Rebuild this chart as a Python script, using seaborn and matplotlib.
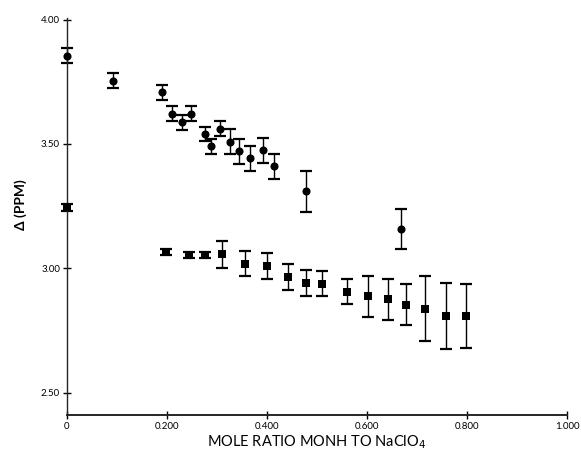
import numpy as np
import pandas as pd
import matplotlib
matplotlib.use('Agg')
import matplotlib.pyplot as plt
import seaborn as sns

# circles (upper series)
circ_x = [0.0, 0.093, 0.190, 0.209, 0.229, 0.247, 0.275, 0.287, 0.305, 0.325,
          0.343, 0.366, 0.391, 0.414, 0.478, 0.667]
circ_y = [3.855, 3.755, 3.708, 3.621, 3.588, 3.621, 3.541, 3.491, 3.561, 3.510,
          3.471, 3.443, 3.474, 3.411, 3.310, 3.159]
circ_err = [0.030, 0.030, 0.031, 0.030, 0.030, 0.030, 0.028, 0.030, 0.030, 0.050,
            0.051, 0.050, 0.051, 0.050, 0.082, 0.081]

# squares (lower series)
sq_x = [0.0, 0.198, 0.243, 0.276, 0.309, 0.356, 0.399, 0.441, 0.478, 0.509,
        0.559, 0.601, 0.641, 0.677, 0.716, 0.757, 0.797]
sq_y = [3.246, 3.065, 3.052, 3.052, 3.056, 3.019, 3.008, 2.965, 2.941, 2.938,
        2.905, 2.888, 2.876, 2.854, 2.838, 2.808, 2.808]
sq_err = [0.014, 0.012, 0.012, 0.012, 0.053, 0.051, 0.052, 0.052, 0.052, 0.051,
          0.050, 0.083, 0.082, 0.081, 0.130, 0.132, 0.130]

x_ticks = [0, 0.2, 0.4, 0.6, 0.8, 1.0]
x_labels = ['0', '0.200', '0.400', '0.600', '0.800', '1.000']
y_ticks = [2.5, 3.0, 3.5, 4.0]
y_labels = ['2.50', '3.00', '3.50', '4.00']

circ = pd.DataFrame({'x': circ_x, 'y': circ_y, 'err': circ_err})
sq = pd.DataFrame({'x': sq_x, 'y': sq_y, 'err': sq_err})

sns.set_style('ticks')
plt.rcParams['font.family'] = ['Lato', 'DejaVu Sans']

fig = plt.figure(figsize=(5.81, 4.54), dpi=100)
ax = fig.add_axes([0.1153, 0.0859, 0.8607, 0.8735])

for df in (circ, sq):
    ax.errorbar(df['x'], df['y'], yerr=df['err'], fmt='none', ecolor='black',
                elinewidth=1.0, capsize=4.5, capthick=1.6, clip_on=False, zorder=2)

sns.scatterplot(data=circ, x='x', y='y', ax=ax, marker='o', s=34, color='black',
                edgecolor='black', linewidth=0, clip_on=False, zorder=3)
sns.scatterplot(data=sq, x='x', y='y', ax=ax, marker='s', s=28, color='black',
                edgecolor='black', linewidth=0, clip_on=False, zorder=3)

ax.set_xlim(0, 1.0)
ax.set_ylim(2.41, 4.005)
ax.set_xticks(x_ticks)
ax.set_xticklabels(x_labels)
ax.set_yticks(y_ticks)
ax.set_yticklabels(y_labels)
ax.tick_params(axis='both', direction='inout', length=6, width=1.0,
               labelsize=7, colors='black', pad=2)
sns.despine(ax=ax)
ax.spines['left'].set_linewidth(1.0)
ax.spines['bottom'].set_linewidth(1.4)

ax.set_xlabel('MOLE RATIO MONH TO NaClO$_4$', fontsize=10.5, color='black', labelpad=2)
ax.set_ylabel('Δ (PPM)', fontsize=10, fontweight='bold', color='black')
ax.yaxis.set_label_coords(-0.08, 0.53)

fig.savefig('out.png', dpi=100)
